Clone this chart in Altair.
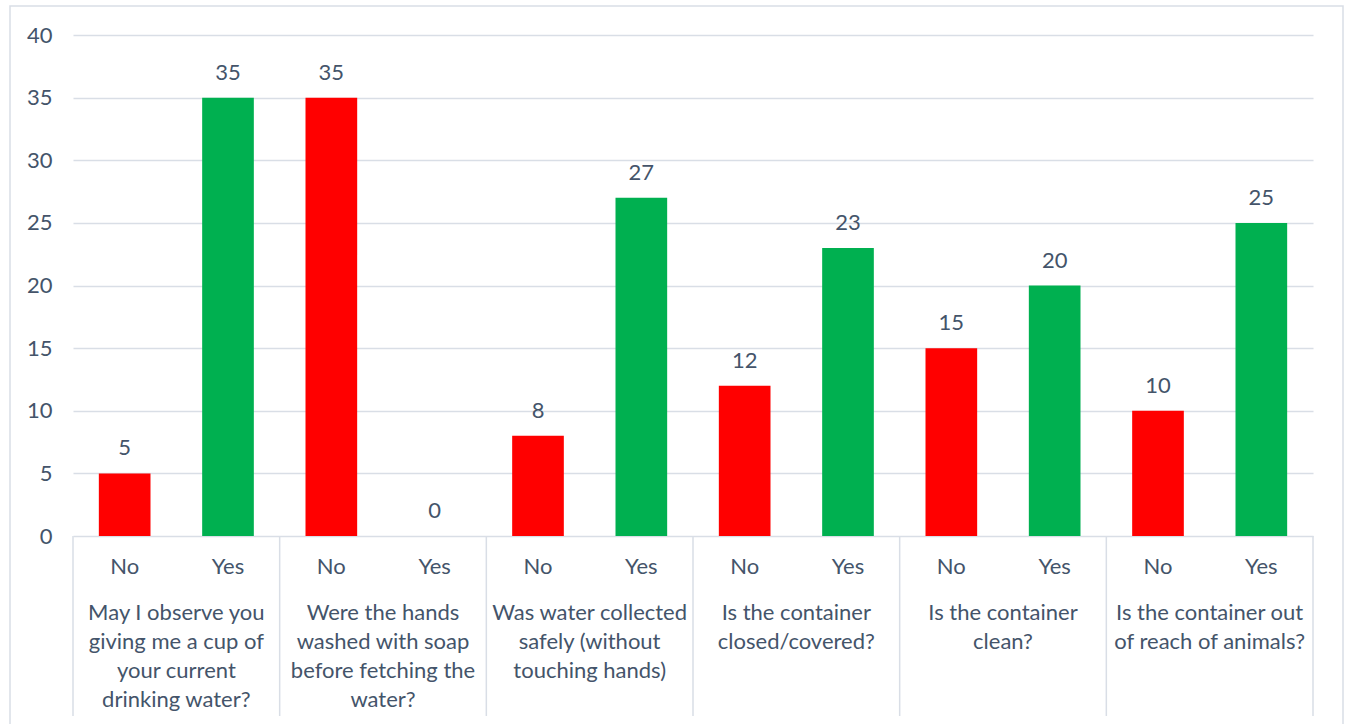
import altair as alt
import pandas as pd

questions = [
    ["May I observe you", "giving me a cup of", "your current", "drinking water?"],
    ["Were the hands", "washed with soap", "before fetching the", "water?"],
    ["Was water collected", "safely (without", "touching hands)"],
    ["Is the container", "closed/covered?"],
    ["Is the container", "clean?"],
    ["Is the container out", "of reach of animals?"],
]
answers = ["No", "Yes"]
no_values = [5, 35, 8, 12, 15, 10]
yes_values = [35, 0, 27, 23, 20, 25]
y_ticks = [0, 5, 10, 15, 20, 25, 30, 35, 40]

TEXT = "#44546A"
GRID = "#D9DEE6"
FONT = "Lato"
FS = 22

rows = []
for g, q in enumerate(questions):
    for a, ans in enumerate(answers):
        v = no_values[g] if a == 0 else yes_values[g]
        idx = 2 * g + a
        rows.append({"q": g, "answer": ans, "value": v, "pos": idx + 0.5,
                     "left": idx + 0.25, "right": idx + 0.75})
bars_df = pd.DataFrame(rows)
groups_df = pd.DataFrame({"q": list(range(len(questions))),
                          "center": [2 * g + 1 for g in range(len(questions))],
                          "lines": questions})
seps_df = pd.DataFrame({"edge": [2 * g for g in range(len(questions) + 1)]})

xs = alt.Scale(domain=[0, 2 * len(questions)], nice=False, zero=False)
ys = alt.Scale(domain=[0, 40], nice=False)

bars = alt.Chart(bars_df).mark_bar().encode(
    x=alt.X("left:Q", scale=xs, axis=None),
    x2="right:Q",
    y=alt.Y("value:Q", scale=ys, axis=alt.Axis(values=y_ticks, grid=True, gridColor=GRID,
                                               gridWidth=1.3, domain=False, ticks=False,
                                               labelPadding=21, labelFontSize=FS,
                                               labelColor=TEXT, labelFont=FONT, title=None)),
    y2=alt.datum(0),
    color=alt.Color("answer:N", scale=alt.Scale(domain=answers, range=["#FF0000", "#00B050"]),
                    legend=None),
)

value_text = alt.Chart(bars_df).mark_text(dy=-25, fontSize=FS, font=FONT, color=TEXT,
                                          baseline="middle").encode(
    x=alt.X("pos:Q", scale=xs), y=alt.Y("value:Q", scale=ys), text="value:Q")

answer_text = alt.Chart(bars_df).mark_text(fontSize=FS, font=FONT, color=TEXT,
                                           baseline="middle").encode(
    x=alt.X("pos:Q", scale=xs), y=alt.value(532), text="answer:N")

group_text = alt.Chart(groups_df).mark_text(fontSize=FS, font=FONT, color=TEXT,
                                            baseline="top", lineHeight=29).encode(
    x=alt.X("center:Q", scale=xs), y=alt.value(568), text="lines")

seps = alt.Chart(seps_df).mark_rule(color=GRID, strokeWidth=1.5).encode(
    x=alt.X("edge:Q", scale=xs), y=alt.value(501), y2=alt.value(681))

border = alt.Chart(pd.DataFrame({"k": [0]})).mark_rect(
    fill=None, stroke=GRID, strokeWidth=1.5).encode(
    x=alt.value(-63), x2=alt.value(1270), y=alt.value(-29), y2=alt.value(700))

chart = alt.layer(border, bars, seps, value_text, answer_text, group_text).properties(
    width=1240, height=501,
    autosize=alt.AutoSizeParams(type="none"),
    padding={"left": 73, "top": 35, "right": 34, "bottom": 188},
    background="white",
).configure_view(stroke=None)

chart.save("out.html", embed_options={"renderer": "svg", "actions": False})
